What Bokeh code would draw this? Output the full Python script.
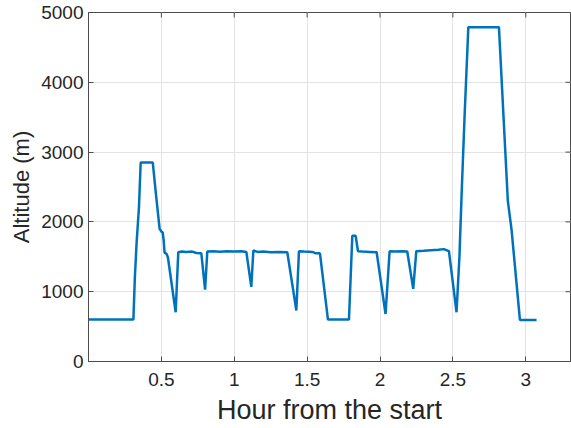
import math
from bokeh.plotting import figure
from bokeh.models import FixedTicker, Range1d
from bokeh.embed import file_html
from bokeh.resources import INLINE

hours = [0.0, 0.308, 0.318, 0.330, 0.346, 0.358, 0.441, 0.465, 0.488, 0.500, 0.509,
         0.516, 0.522, 0.536, 0.545, 0.598, 0.616, 0.640, 0.670, 0.712, 0.740, 0.774,
         0.800, 0.815, 0.860, 0.900, 0.950, 1.000, 1.050, 1.083, 1.117, 1.131, 1.160,
         1.200, 1.250, 1.300, 1.364, 1.426, 1.444, 1.480, 1.536, 1.560, 1.588, 1.643,
         1.787, 1.810, 1.833, 1.849, 1.880, 1.930, 1.977, 2.038, 2.066, 2.100, 2.150,
         2.187, 2.228, 2.249, 2.300, 2.350, 2.400, 2.438, 2.473, 2.525, 2.545, 2.560,
         2.580, 2.606, 2.816, 2.877, 2.903, 2.960, 3.074]
altitude = [600, 600, 1200, 1700, 2200, 2850, 2850, 2350, 1900, 1860, 1850,
            1730, 1560, 1540, 1490, 705, 1565, 1575, 1570, 1575, 1555, 1550,
            1030, 1575, 1578, 1572, 1580, 1575, 1578, 1570, 1070, 1590, 1570,
            1575, 1565, 1570, 1565, 730, 1580, 1575, 1570, 1550, 1550, 600,
            600, 1800, 1800, 1580, 1575, 1570, 1565, 680, 1580, 1575, 1580,
            1575, 1040, 1580, 1585, 1595, 1600, 1610, 1580, 705, 1500, 2400,
            3500, 4790, 4790, 2300, 1880, 595, 595]

x_ticks = [0.5, 1, 1.5, 2, 2.5, 3]
y_ticks = [0, 1000, 2000, 3000, 4000, 5000]
x_max = 3.307
y_max = 5000

font = "Liberation Sans"
axis_col = "#4d4d4d"
text_col = "#262626"

p = figure(width=571, height=428, output_backend="svg", toolbar_location=None,
           x_range=Range1d(0, x_max), y_range=Range1d(0, y_max),
           min_border_left=88, min_border_right=1, min_border_top=12, min_border_bottom=67)
p.background_fill_color = "white"
p.border_fill_color = "white"
p.outline_line_color = axis_col
p.outline_line_width = 1

p.xgrid.ticker = FixedTicker(ticks=x_ticks)
p.ygrid.ticker = FixedTicker(ticks=y_ticks)
p.grid.grid_line_color = "#e3e3e3"
p.grid.grid_line_width = 1

# box ticks on top and right
p.ray(x=x_ticks, y=[y_max] * len(x_ticks), length=5, length_units="screen",
      angle=-math.pi / 2, line_color=axis_col, line_width=1)
p.ray(x=[x_max] * len(y_ticks), y=y_ticks, length=5, length_units="screen",
      angle=math.pi, line_color=axis_col, line_width=1)

p.line(hours, altitude, line_color="#0072BD", line_width=2.5)

for ax, ticks in ((p.xaxis[0], x_ticks), (p.yaxis[0], y_ticks)):
    ax.ticker = FixedTicker(ticks=ticks)
    ax.major_tick_in = 5
    ax.major_tick_out = 0
    ax.minor_tick_line_color = None
    ax.axis_line_color = axis_col
    ax.major_tick_line_color = axis_col
    ax.major_label_text_font = font
    ax.major_label_text_font_size = "19px"
    ax.major_label_text_color = text_col
    ax.axis_label_text_font = font
    ax.axis_label_text_font_style = "normal"
    ax.axis_label_text_color = text_col

p.xaxis[0].axis_label = "Hour from the start"
p.xaxis[0].axis_label_text_font_size = "27px"
p.xaxis[0].major_label_standoff = 11
p.xaxis[0].axis_label_standoff = 6
p.yaxis[0].axis_label = "Altitude (m)"
p.yaxis[0].axis_label_text_font_size = "22px"
p.yaxis[0].major_label_standoff = 5
p.yaxis[0].axis_label_standoff = 4

open("out.html", "w").write(file_html(p, INLINE))
